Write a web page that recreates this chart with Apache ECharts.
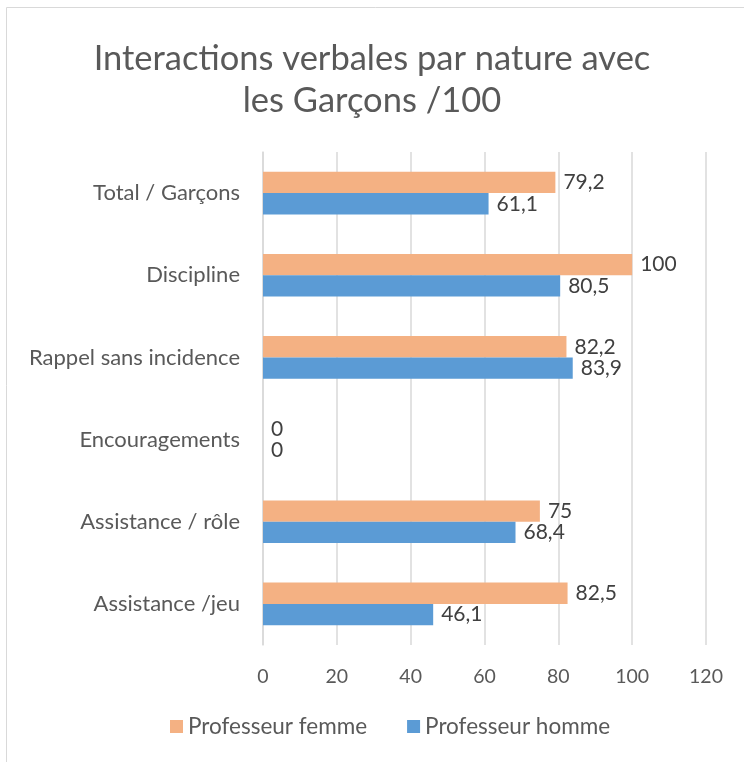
<!DOCTYPE html>
<html><head><meta charset="utf-8">
<script src="https://cdn.jsdelivr.net/npm/echarts@6/dist/echarts.min.js"></script>
<style>html,body{margin:0;padding:0;background:#fff}#c{width:744px;height:762px}</style>
</head><body><div id="c"></div>
<script>
const categories = ['Total / Garçons','Discipline','Rappel sans incidence','Encouragements','Assistance / rôle','Assistance /jeu'];
const femme = [79.2, 100, 82.2, 0, 75, 82.5];
const homme = [61.1, 80.5, 83.9, 0, 68.4, 46.1];
const seriesNames = ['Professeur femme','Professeur homme'];
const xTicks = {min: 0, max: 120, interval: 20};
const FONT = 'Lato';
const chart = echarts.init(document.getElementById('c'), null, {renderer:'canvas'});
const fmt = p => String(p.value).replace('.', ',');
chart.setOption({
  animation: false,
  textStyle: {fontFamily: FONT},
  title: {
    text: 'Interactions verbales par nature avec\nles Garçons /100',
    left: 'center', top: 33,
    textStyle: {fontFamily: FONT, fontSize: 34.5, fontWeight: 'normal', color: '#595959', lineHeight: 42}
  },
  graphic: [{type:'rect', shape:{x:6.5, y:7.5, width:800, height:800}, style:{fill:'none', stroke:'#d9d9d9', lineWidth:1}, silent:true}],
  legend: {
    bottom: 19, left: 165, itemWidth: 13, itemHeight: 13, itemGap: 40,
    icon: 'rect',
    textStyle: {fontFamily: FONT, fontSize: 22.5, color: '#595959'},
    data: seriesNames
  },
  grid: {left: 263, right: 38, top: 152, bottom: 117, containLabel: false},
  xAxis: {
    type: 'value', min: xTicks.min, max: xTicks.max, interval: xTicks.interval,
    axisLine: {show: false}, axisTick: {show: false},
    axisLabel: {fontFamily: FONT, fontSize: 19.5, color: '#595959', margin: 22},
    splitLine: {lineStyle: {color: '#d9d9d9', width: 1.5}}
  },
  yAxis: {
    type: 'category', data: categories, inverse: true,
    axisLine: {show: true, lineStyle: {color: '#d9d9d9', width: 1.5}},
    axisTick: {show: false},
    axisLabel: {fontFamily: FONT, fontSize: 22, color: '#595959', margin: 23}
  },
  series: [
    {name: seriesNames[0], type: 'bar', data: femme, barGap: '0%', barCategoryGap: '48%',
     itemStyle: {color: '#F4B183'},
     label: {show: true, position: 'right', distance: 8, formatter: fmt, fontFamily: FONT, fontSize: 21, color: '#404040'}},
    {name: seriesNames[1], type: 'bar', data: homme, barGap: '0%', barCategoryGap: '48%',
     itemStyle: {color: '#5B9BD5'},
     label: {show: true, position: 'right', distance: 8, formatter: fmt, fontFamily: FONT, fontSize: 21, color: '#404040'}}
  ]
});
</script></body></html>
